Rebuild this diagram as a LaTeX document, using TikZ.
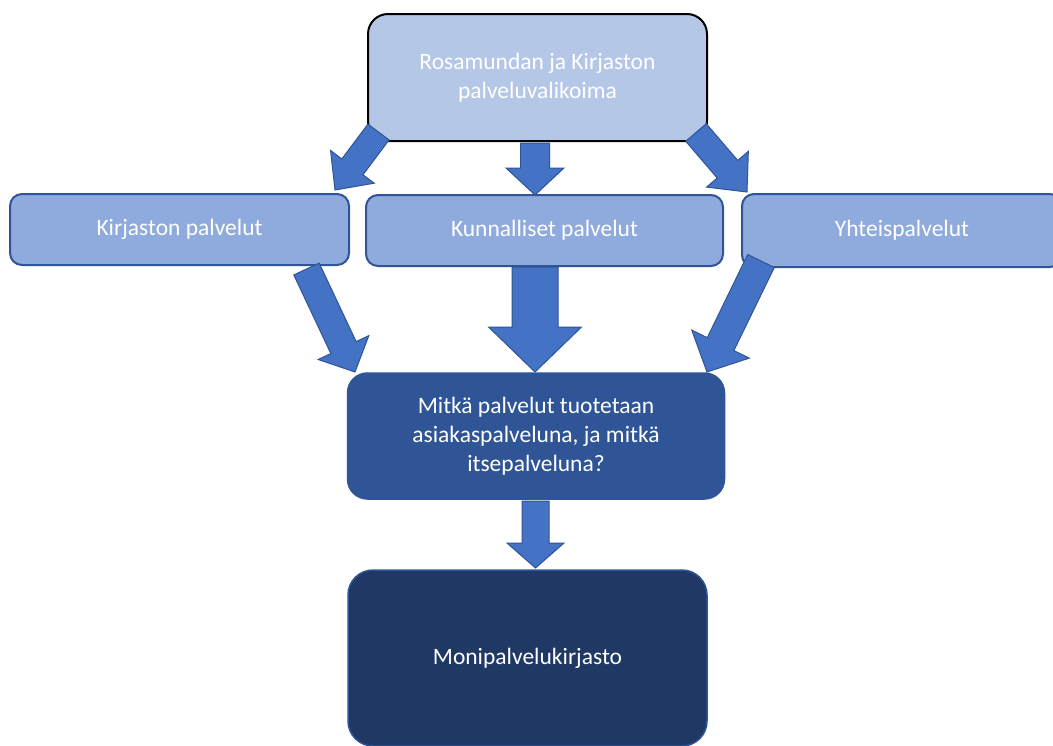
\documentclass[tikz,border=0pt]{standalone}
\usepackage{fontspec}
\setmainfont{Carlito}
\usetikzlibrary{calc}
\definecolor{cTop}{HTML}{B4C7E7}
\definecolor{cRow}{HTML}{8FAADC}
\definecolor{cDark}{HTML}{2F5597}
\definecolor{cDarker}{HTML}{1F3864}
\definecolor{cArrow}{HTML}{4472C4}
\newcommand\myblockarrow[5]{%
  \coordinate (H) at ($(#2)!#5!(#1)$);
  \draw[blockarrowsty] ($(#1)!#3!90:(#2)$) -- ($(H)!#3!90:(#2)$) -- ($(H)!#4!90:(#2)$) -- (#2)
    -- ($(H)!#4!-90:(#2)$) -- ($(H)!#3!-90:(#2)$) -- ($(#1)!#3!-90:(#2)$) -- cycle;
}
\begin{document}
\begin{tikzpicture}[x=1pt,y=-1pt,
  box/.style={rectangle, inner sep=0pt, align=center, text=white,
    font=\fontsize{23.5}{29}\selectfont},
  topbox/.style={box, fill=cTop, draw=black, line width=2pt, rounded corners=20pt},
  rowbox/.style={box, fill=cRow, draw=cDark, line width=2pt, rounded corners=12pt},
  midbox/.style={box, fill=cDark, draw=cDark, line width=1.5pt, rounded corners=20pt},
  lastbox/.style={box, fill=cDarker, draw=cDark, line width=1.5pt, rounded corners=25pt},
  blockarrowsty/.style={fill=cArrow, draw=cDark, line width=1pt, line join=miter}]
\useasboundingbox (0,0) rectangle (1053,745);
\clip (0,0) rectangle (1053,745);
\fill[white] (0,0) rectangle (1053,745);

\node[topbox, minimum width=339pt, minimum height=127pt] (top) at (537.5,77.5)
  {Rosamundan ja Kirjaston\\palveluvalikoima};
\node[rowbox, minimum width=339pt, minimum height=71pt] (kir) at (179.5,229.5) {Kirjaston palvelut};
\node[rowbox, minimum width=357pt, minimum height=71pt] (kun) at (544.5,230.5) {Kunnalliset palvelut};
\node[rowbox, minimum width=320pt, minimum height=73pt] (yht) at (902,230.5) {Yhteispalvelut};
\node[midbox, minimum width=377pt, minimum height=126pt] (mid) at (536,436)
  {Mitkä palvelut tuotetaan\\asiakaspalveluna, ja mitkä\\itsepalveluna?};
\node[lastbox, minimum width=359pt, minimum height=176pt] (mon) at (527.5,658) {Monipalvelukirjasto};

% arrow end points
\coordinate (a1s) at (378.5,132); \coordinate (a1e) at (335,190);
\coordinate (a2s) at (535,143);   \coordinate (a2e) at (535,195);
\coordinate (a3s) at (696,132.5); \coordinate (a3e) at (747,192);
\coordinate (b1s) at (306.5,269); \coordinate (b1e) at (355,372);
\coordinate (b2s) at (535,267);   \coordinate (b2e) at (535,372);
\coordinate (b3s) at (761,261);   \coordinate (b3e) at (707,372);
\coordinate (c1s) at (535.5,501); \coordinate (c1e) at (535.5,568);

\myblockarrow{a1s}{a1e}{13.2pt}{27.3pt}{29pt}
\myblockarrow{a2s}{a2e}{14.5pt}{29pt}{27pt}
\myblockarrow{a3s}{a3e}{13.5pt}{27.5pt}{30pt}
\myblockarrow{b1s}{b1e}{14pt}{28pt}{27pt}
\myblockarrow{b2s}{b2e}{23pt}{46.5pt}{45pt}
\myblockarrow{b3s}{b3e}{14.8pt}{32pt}{31pt}
\myblockarrow{c1s}{c1e}{13.5pt}{28.5pt}{25pt}
\end{tikzpicture}
\end{document}
